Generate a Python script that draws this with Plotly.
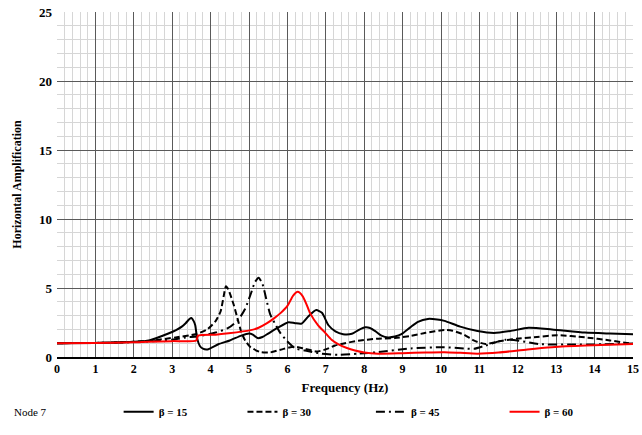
import plotly.graph_objects as go

# ---- data ----
b15_x = [0, 1, 2, 2.4, 2.9, 3.1, 3.25, 3.35, 3.45, 3.5, 3.56, 3.6, 3.65, 3.72, 3.8, 3.92, 4.2, 4.5, 4.8, 5.0,
         5.1, 5.22, 5.35, 5.5, 5.75, 6.03, 6.2, 6.37, 6.55, 6.75, 6.9, 7.07, 7.25, 7.45, 7.68, 7.85, 8.03, 8.15,
         8.3, 8.45, 8.62, 8.8, 8.97, 9.2, 9.4, 9.66, 9.9, 10.09, 10.5, 10.95, 11.38, 11.8, 12.28, 12.89, 13.75,
         14.4, 15]
b15_y = [1.0, 1.02, 1.1, 1.2, 1.7, 1.95, 2.2, 2.45, 2.75, 2.82, 2.6, 2.3, 1.35, 0.8, 0.6, 0.55, 0.92, 1.2, 1.55,
         1.7, 1.62, 1.37, 1.45, 1.7, 2.12, 2.52, 2.45, 2.42, 2.95, 3.4, 3.2, 2.3, 1.85, 1.65, 1.68, 1.95, 2.15,
         2.1, 1.85, 1.55, 1.42, 1.48, 1.65, 2.15, 2.55, 2.76, 2.72, 2.62, 2.2, 1.88, 1.74, 1.88, 2.12, 2.0, 1.77,
         1.7, 1.65]

b30_x = [0, 1, 2, 2.5, 3.09, 3.61, 3.91, 4.13, 4.26, 4.34, 4.4, 4.46, 4.6, 4.7, 4.8, 4.9, 5.04, 5.3, 5.55, 5.9,
         6.2, 6.45, 6.76, 7.0, 7.24, 7.5, 7.84, 8.32, 8.8, 9.22, 9.6, 10.09, 10.3, 10.6, 10.85, 11.16, 11.6,
         12.03, 12.5, 13.02, 13.75, 14.4, 15]
b30_y = [1.0, 1.02, 1.1, 1.2, 1.42, 1.65, 2.0, 2.6, 3.3, 4.4, 5.12, 4.9, 3.8, 2.8, 1.8, 1.2, 0.71, 0.35, 0.33,
         0.59, 0.75, 0.6, 0.4, 0.55, 0.83, 1.0, 1.18, 1.32, 1.38, 1.53, 1.75, 1.96, 1.9, 1.62, 1.2, 0.94, 1.18,
         1.34, 1.45, 1.58, 1.42, 1.2, 0.95]

b45_x = [0, 1, 2, 2.5, 3.0, 3.35, 3.65, 4.13, 4.47, 4.72, 4.9, 5.05, 5.15, 5.25, 5.35, 5.45, 5.55, 5.68, 5.81,
         5.98, 6.11, 6.2, 6.46, 6.89, 7.32, 7.84, 8.36, 9.22, 10.09, 10.6, 10.86, 11.16, 11.68, 12.03, 12.54,
         13.32, 14.2, 15]
b45_y = [1.0, 1.02, 1.08, 1.15, 1.25, 1.42, 1.49, 1.77, 2.12, 2.7, 3.5, 4.6, 5.4, 5.75, 5.3, 4.2, 3.1, 2.4,
         1.77, 1.18, 0.83, 0.62, 0.47, 0.24, 0.16, 0.24, 0.35, 0.62, 0.71, 0.62, 0.59, 0.83, 1.25, 1.18, 0.94,
         0.9, 0.92, 0.97]

b60_x = [0, 1, 2, 2.38, 3.0, 3.63, 3.67, 4.13, 4.47, 5.02, 5.25, 5.47, 5.65, 5.82, 6.0, 6.15, 6.27, 6.4, 6.5,
         6.59, 6.8, 6.98, 7.15, 7.32, 7.55, 7.76, 8.0, 8.36, 9.0, 9.6, 10.09, 10.5, 10.95, 11.5, 12.25, 12.89,
         13.75, 15]
b60_y = [1.0, 1.02, 1.06, 1.11, 1.15, 1.2, 1.55, 1.62, 1.72, 1.93, 2.12, 2.45, 2.8, 3.18, 3.7, 4.45, 4.72, 4.4,
         3.8, 3.18, 2.3, 1.77, 1.25, 0.94, 0.65, 0.47, 0.33, 0.24, 0.28, 0.33, 0.35, 0.3, 0.24, 0.32, 0.55, 0.71,
         0.83, 0.94]

series = [
    ("β = 15", b15_x, b15_y, "black", "solid", "legend", 0.107),
    ("β = 30", b30_x, b30_y, "black", "6px,3px", "legend2", 0.322),
    ("β = 45", b45_x, b45_y, "black", "9px,4px,2px,4px", "legend3", 0.545),
    ("β = 60", b60_x, b60_y, "red", "solid", "legend4", 0.777),
]

x_ticks = list(range(0, 16))
y_ticks = [0, 5, 10, 15, 20, 25]

SERIF = "Liberation Serif"

fig = go.Figure()
for name, xs, ys, col, dash, lg, _ in series:
    fig.add_trace(go.Scatter(
        x=xs, y=ys, mode="lines", name=name, legend=lg,
        line=dict(color=col, width=2, dash=dash, shape="spline", smoothing=0.6),
    ))

legend_common = dict(
    orientation="h", y=-0.159, yanchor="middle", xanchor="left",
    bgcolor="rgba(0,0,0,0)", borderwidth=0,
    font=dict(family=SERIF, size=11, color="black", weight="bold"),
    itemwidth=30,
)
lay = {}
for name, xs, ys, col, dash, lg, lx in series:
    lay[lg] = dict(legend_common, x=lx)

fig.update_layout(
    width=642, height=435, autosize=False,
    margin=dict(l=57, r=9, t=12, b=70),
    paper_bgcolor="white", plot_bgcolor="white",
    showlegend=True,
    **lay,
)

fig.update_xaxes(
    range=[0, 15], tickmode="array", tickvals=x_ticks, ticktext=[str(v) for v in x_ticks],
    showgrid=True, gridcolor="#5a5a5a", gridwidth=1,
    minor=dict(dtick=0.2, showgrid=True, gridcolor="#d6d6d6", gridwidth=1),
    showline=True, linecolor="black", linewidth=1.5, zeroline=False, ticks="",
    ticklabeloverflow="allow",
    tickfont=dict(family=SERIF, size=12, color="black", weight="bold"),
    title=dict(text="Frequency (Hz)", font=dict(family=SERIF, size=13, color="black", weight="bold"), standoff=8),
    automargin=False,
)
fig.update_yaxes(
    range=[0, 25], tickmode="array", tickvals=y_ticks, ticktext=[str(v) for v in y_ticks],
    showgrid=True, gridcolor="#5a5a5a", gridwidth=1,
    minor=dict(dtick=1, showgrid=True, gridcolor="#d6d6d6", gridwidth=1),
    showline=False, zeroline=False, ticks="", ticklabelstandoff=4,
    tickfont=dict(family=SERIF, size=13, color="black", weight="bold"),
    title=dict(text="Horizontal Amplification", font=dict(family=SERIF, size=12, color="black", weight="bold"), standoff=14),
    automargin=False,
)

fig.add_annotation(text="Node 7", xref="paper", yref="paper", x=(12 - 57) / 576, y=-0.159,
                   xanchor="left", yanchor="middle", showarrow=False,
                   font=dict(family=SERIF, size=11, color="black"))

post = ("document.documentElement.style.margin='0';document.documentElement.style.overflow='hidden';"
        "document.body.style.margin='0';document.body.style.padding='0';document.body.style.overflow='hidden';")
fig.write_html("out.html", config={"displayModeBar": False, "responsive": False},
               default_width="642px", default_height="435px", post_script=post)
